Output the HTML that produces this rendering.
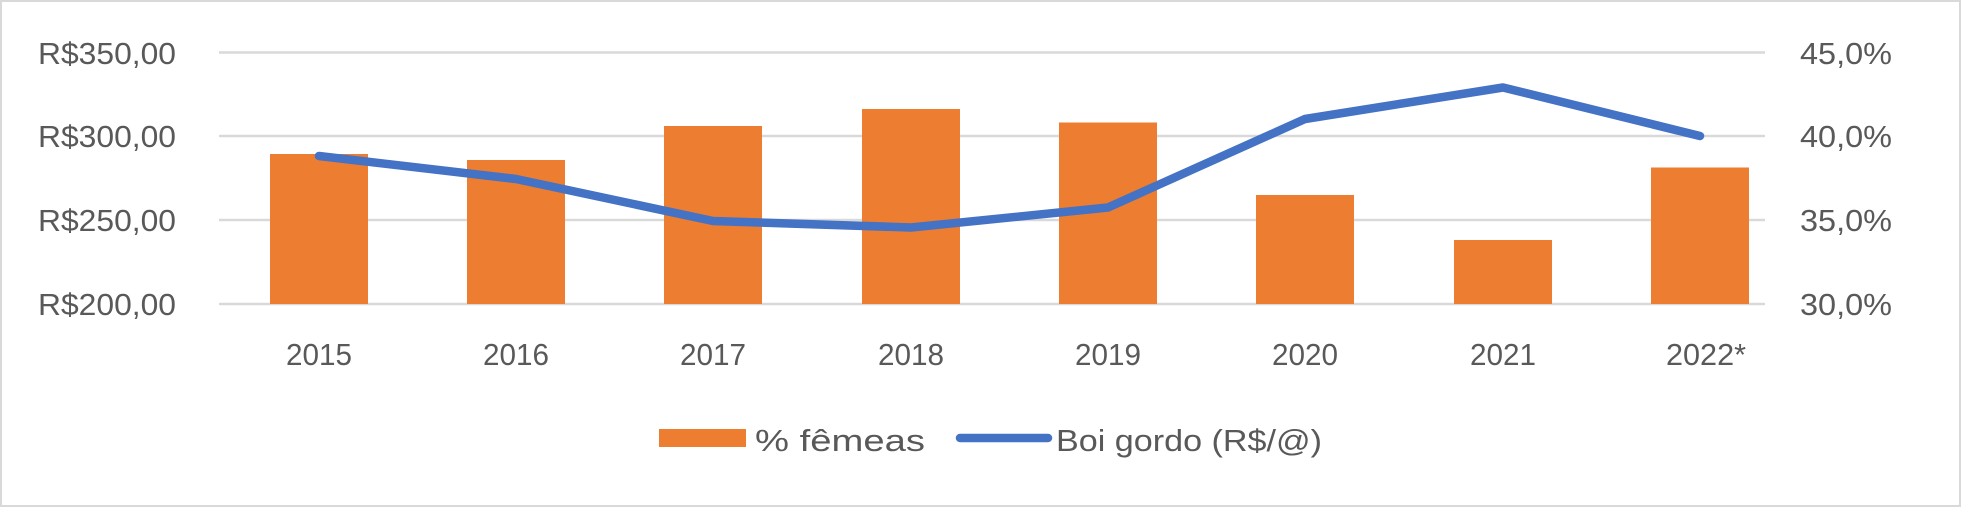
<!DOCTYPE html>
<html><head><meta charset="utf-8"><style>
html,body{margin:0;padding:0;background:#fff;}
svg{display:block;}
text{font-family:"Liberation Sans",sans-serif;fill:#595959;}
</style></head><body>
<svg width="1961" height="507" viewBox="0 0 1961 507" xmlns="http://www.w3.org/2000/svg">
<rect x="1" y="1" width="1959" height="505" fill="#fff" stroke="#d9d9d9" stroke-width="2"/>
<g stroke="#d9d9d9" stroke-width="2.5">
<line x1="219" y1="52.5" x2="1765" y2="52.5"/>
<line x1="219" y1="136" x2="1765" y2="136"/>
<line x1="219" y1="220" x2="1765" y2="220"/>
<line x1="219" y1="304" x2="1765" y2="304"/>
</g>
<g font-size="31" text-anchor="end">
<text x="176" y="64" textLength="138" lengthAdjust="spacingAndGlyphs">R$350,00</text>
<text x="176" y="147" textLength="138" lengthAdjust="spacingAndGlyphs">R$300,00</text>
<text x="176" y="231" textLength="138" lengthAdjust="spacingAndGlyphs">R$250,00</text>
<text x="176" y="315" textLength="138" lengthAdjust="spacingAndGlyphs">R$200,00</text>
</g>
<g font-size="31">
<text x="1800" y="64" textLength="92" lengthAdjust="spacingAndGlyphs">45,0%</text>
<text x="1800" y="147" textLength="92" lengthAdjust="spacingAndGlyphs">40,0%</text>
<text x="1800" y="231" textLength="92" lengthAdjust="spacingAndGlyphs">35,0%</text>
<text x="1800" y="315" textLength="92" lengthAdjust="spacingAndGlyphs">30,0%</text>
</g>
<g fill="#ed7d31">
<rect x="270" y="154" width="98" height="150"/>
<rect x="467" y="160" width="98" height="144"/>
<rect x="664" y="126" width="98" height="178"/>
<rect x="862" y="109" width="98" height="195"/>
<rect x="1059" y="122.5" width="98" height="181.5"/>
<rect x="1256" y="195" width="98" height="109"/>
<rect x="1454" y="240" width="98" height="64"/>
<rect x="1651" y="167.5" width="98" height="136.5"/>
</g>
<polyline fill="none" stroke="#4472c4" stroke-width="8.5" stroke-linecap="round" stroke-linejoin="round"
 points="319,156 516,179 713,221 911,227.5 1108,207.5 1305,119 1503,87.5 1700,136"/>
<g font-size="31" text-anchor="middle">
<text x="319" y="365" textLength="66" lengthAdjust="spacingAndGlyphs">2015</text>
<text x="516" y="365" textLength="66" lengthAdjust="spacingAndGlyphs">2016</text>
<text x="713" y="365" textLength="66" lengthAdjust="spacingAndGlyphs">2017</text>
<text x="911" y="365" textLength="66" lengthAdjust="spacingAndGlyphs">2018</text>
<text x="1108" y="365" textLength="66" lengthAdjust="spacingAndGlyphs">2019</text>
<text x="1305" y="365" textLength="66" lengthAdjust="spacingAndGlyphs">2020</text>
<text x="1503" y="365" textLength="66" lengthAdjust="spacingAndGlyphs">2021</text>
<text x="1706" y="365" textLength="80" lengthAdjust="spacingAndGlyphs">2022*</text>
</g>
<rect x="659" y="429" width="87" height="18" fill="#ed7d31"/>
<text x="755" y="451" font-size="31" textLength="170" lengthAdjust="spacingAndGlyphs">% fêmeas</text>
<line x1="960" y1="438" x2="1048" y2="438" stroke="#4472c4" stroke-width="8.5" stroke-linecap="round"/>
<text x="1056" y="451" font-size="31" textLength="266" lengthAdjust="spacingAndGlyphs">Boi gordo (R$/@)</text>
</svg>
</body></html>
